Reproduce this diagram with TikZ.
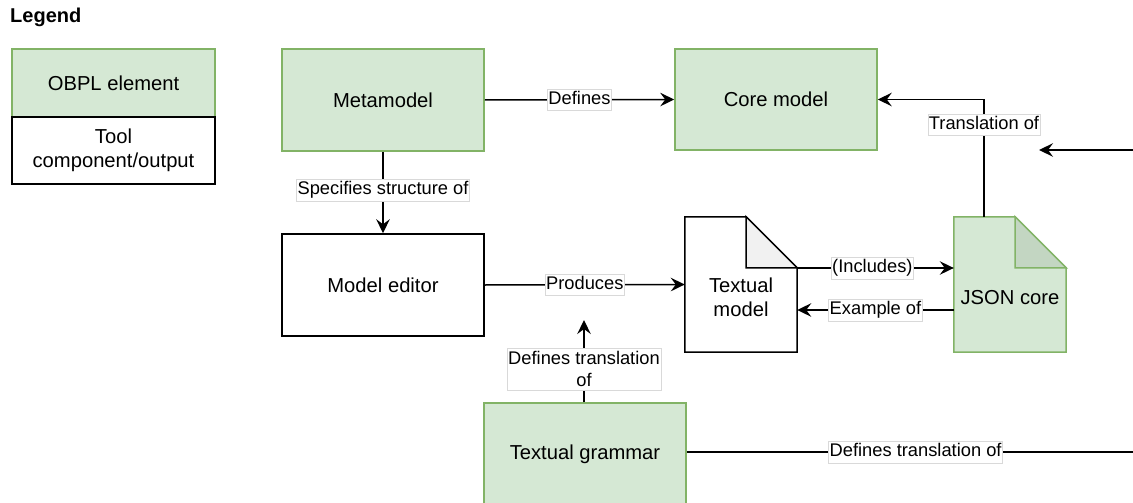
\documentclass[tikz,border=0pt]{standalone}
\usepackage{fontspec}
\setmainfont{Liberation Sans}
\usetikzlibrary{arrows.meta,calc}
\definecolor{obplfill}{HTML}{D5E8D4}
\definecolor{obplline}{HTML}{82B366}
\definecolor{obplfold}{HTML}{C3D6C2}
\definecolor{docfold}{HTML}{F1F1F1}

\begin{document}
\begin{tikzpicture}[x=1pt,y=-1pt,
  every node/.style={font=\fontsize{20.2}{23.5}\selectfont},
  obpl/.style={draw=obplline, fill=obplfill, line width=1.5pt,
    minimum width=202pt, minimum height=102pt, inner sep=0pt},
  toolbox/.style={draw=black, fill=white, line width=1.5pt,
    minimum width=202pt, minimum height=102pt, inner sep=0pt},
  docspace/.style={minimum width=112pt, minimum height=135pt, inner sep=0pt},
  conn/.style={line width=1.5pt, -{Stealth[length=14pt,width=13.5pt,inset=5pt]}},
  plainconn/.style={line width=1.5pt},
  lblbase/.style={fill=white, draw=black!15, line width=0.5pt,
    font=\fontsize{18.3}{22}\selectfont, inner xsep=1pt},
  lbl/.style={lblbase, inner ysep=2pt, text height=13.5pt, text depth=4pt},
  lbltwo/.style={lblbase, inner ysep=3pt, align=center}
]
\useasboundingbox (0,0) rectangle (1133,503);
\clip (0,0) rectangle (1133,503);
\fill[white] (0,0) rectangle (1133,503);

% legend
\node[anchor=west, inner sep=0pt, font=\bfseries\fontsize{20}{24}\selectfont] (legendtitle) at (10,17) {Legend};
\node[obpl, minimum width=203pt, minimum height=68pt] (legobpl) at (113.5,83) {OBPL element};
\node[toolbox, minimum width=203pt, minimum height=67pt, align=center] (legtool) at (113.5,150.5) {Tool\\component/output};

% main boxes
\node[obpl] (meta) at (383,100) {Metamodel};
\node[obpl, minimum height=101pt] (core) at (776,99.5) {Core model};
\node[toolbox] (editor) at (383,285) {Model editor};
\node[obpl] (grammar) at (585,454) {Textual grammar};

% document shapes
\node[docspace] (tm) at (741,284.5) {};
\node[docspace] (json) at (1010,284.5) {};
\draw[black, line width=1.5pt, fill=white, line join=miter]
  (tm.north west) -- ($(tm.north east)+(-51,0)$) -- ($(tm.north east)+(0,51)$)
  -- (tm.south east) -- (tm.south west) -- cycle;
\draw[black, line width=1.5pt, fill=docfold, line join=miter]
  ($(tm.north east)+(-51,0)$) -- ($(tm.north east)+(-51,51)$) -- ($(tm.north east)+(0,51)$) -- cycle;
\draw[obplline, line width=1.5pt, fill=obplfill, line join=miter]
  (json.north west) -- ($(json.north east)+(-51,0)$) -- ($(json.north east)+(0,51)$)
  -- (json.south east) -- (json.south west) -- cycle;
\draw[obplline, line width=1.5pt, fill=obplfold, line join=miter]
  ($(json.north east)+(-51,0)$) -- ($(json.north east)+(-51,51)$) -- ($(json.north east)+(0,51)$) -- cycle;
\node[align=center, inner sep=0pt] (tmtext) at ($(tm.center)+(0,13)$) {Textual\\model};
\node[inner sep=0pt] (jsontext) at ($(json.center)+(0,13)$) {JSON core};

% free ends of connectors
\coordinate (gramtip) at (584,320);
\coordinate (rightin) at (1140,150);
\coordinate (righttip) at (1039,150);
\coordinate (rightout) at (1140,452);

% connectors
\draw[conn] (meta.east) -- node[lbl] {Defines} (core.west);
\draw[conn] (meta.south) -- node[lbl, pos=0.47] {Specifies structure of} (editor.north);
\draw[conn] (editor.east) -- node[lbl] {Produces} (tm.west);
\draw[conn] ([xshift=-1pt]grammar.north) -- node[lbltwo, pos=0.4] {Defines translation\\of} (gramtip);
\draw[conn] ([yshift=16.5pt]tm.east) -- node[lbl, pos=0.48] {(Includes)} ([yshift=16.5pt]json.west);
\draw[conn] ([yshift=-25.5pt]json.west) -- node[lbl, pos=0.5] {Example of} ([yshift=-25.5pt]tm.east);
\draw[conn] ([xshift=-26pt]json.north) |- node[lbl, pos=0.393] {Translation of} (core.east);
\draw[conn] (rightin) -- (righttip);
\draw[plainconn] ([yshift=2pt]grammar.east) -- node[lbl, pos=0.505] {Defines translation of} (rightout);
\end{tikzpicture}
\end{document}
